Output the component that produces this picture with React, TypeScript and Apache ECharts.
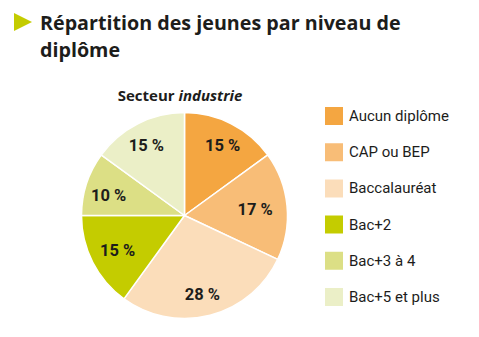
import React, { useEffect, useRef } from "react";
import * as echarts from "echarts";

const categories = ["Aucun diplôme", "CAP ou BEP", "Baccalauréat", "Bac+2", "Bac+3 à 4", "Bac+5 et plus"];
const values = [15, 17, 28, 15, 10, 15];
const colors = ["#F4A641", "#F8BD77", "#FBDDBA", "#C4CC00", "#DCDF85", "#EBEFC7"];
// small manual nudges of the percentage labels, as placed in the original
const labelNudges = [[0, 5], [-13, 2], [-3, -2], [8, -3], [4, 6], [0, 5]];

const condensed = "Roboto, sans-serif";

export default function App() {
  const ref = useRef<HTMLDivElement>(null);
  useEffect(() => {
    const chart = echarts.init(ref.current!, null, { renderer: "svg" });
    const data = categories.map((name, i) => ({ name, value: values[i], itemStyle: { color: colors[i] } }));
    chart.setOption({
      animation: false,
      backgroundColor: "#ffffff",
      title: {
        text: "Répartition des jeunes par niveau de\ndiplôme",
        left: 40,
        top: 9,
        padding: 0,
        textStyle: { fontFamily: "'Open Sans', sans-serif", fontWeight: "bold", fontSize: 19.7, lineHeight: 27, color: "#1d1d1b" },
      },
      graphic: [
        { type: "polygon", shape: { points: [[14, 13], [32, 22], [14, 31]] }, style: { fill: "#C4CC00" } },
        {
          type: "text",
          x: 180,
          y: 95,
          style: {
            text: "{b|Secteur }{i|industrie}",
            align: "center",
            verticalAlign: "middle",
            rich: {
              b: { fontFamily: "'Open Sans', sans-serif", fontWeight: "bold", fontSize: 15, fill: "#1d1d1b" },
              i: { fontFamily: "'Open Sans', sans-serif", fontWeight: "bold", fontStyle: "italic", fontSize: 15, fill: "#1d1d1b" },
            },
          },
        },
      ],
      legend: {
        orient: "vertical",
        left: 323,
        top: 105,
        padding: 0,
        icon: "rect",
        itemWidth: 20,
        itemHeight: 20,
        itemGap: 14.2,
        selectedMode: false,
        textStyle: { fontFamily: condensed, fontSize: 15, color: "#1d1d1b" },
        data: categories,
      },
      series: [
        {
          type: "pie",
          center: [184.5, 215.5],
          radius: [0, 103],
          startAngle: 90,
          clockwise: true,
          silent: true,
          label: { show: false },
          labelLine: { show: false },
          itemStyle: { borderColor: "#ffffff", borderWidth: 1.5 },
          data,
        },
        {
          type: "pie",
          center: [184.5, 215.5],
          radius: [0, 162],
          startAngle: 90,
          clockwise: true,
          silent: true,
          legendHoverLink: false,
          itemStyle: { color: "rgba(0,0,0,0)", borderWidth: 0 },
          label: {
            show: true,
            position: "inside",
            formatter: "{c} %",
            fontFamily: condensed,
            fontWeight: "bold",
            fontSize: 16.5,
            color: "#1d1d1b",
          },
          labelLine: { show: false },
          data: categories.map((name, i) => ({
            name: name + " ",
            value: values[i],
            label: { offset: labelNudges[i] },
          })),
        },
      ],
    });
    return () => chart.dispose();
  }, []);
  return <div ref={ref} style={{ position: "fixed", left: 0, top: 0, width: 479, height: 337 }} />;
}
